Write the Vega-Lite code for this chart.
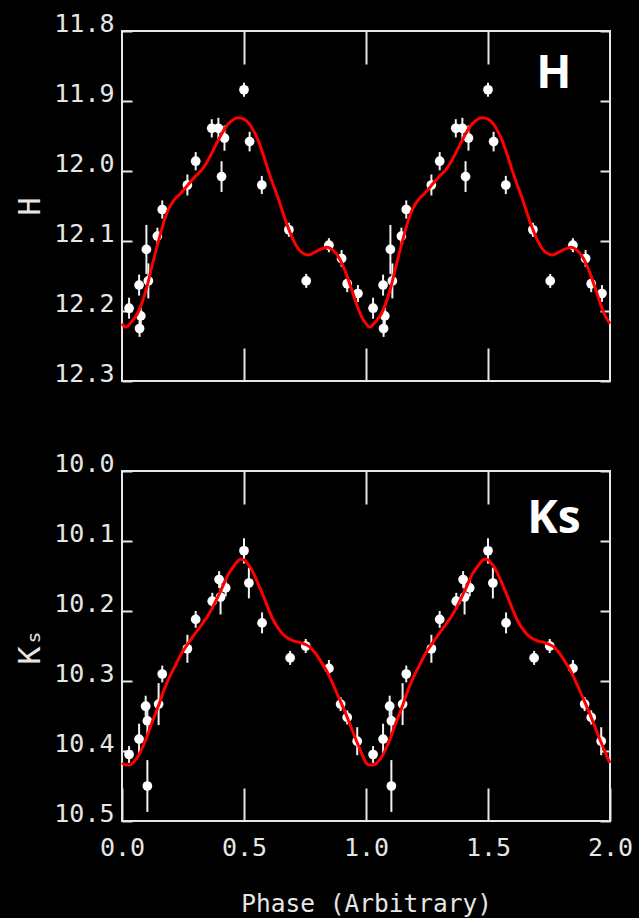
{
  "$schema": "https://vega.github.io/schema/vega-lite/v6.json",
  "background": "black",
  "padding": {"left": 14, "top": 10, "right": 5, "bottom": 2},
  "spacing": 63,
  "datasets": {
    "hp": [
      {"p": 0.029, "m": 12.196, "e": 0.015}, {"p": 0.072, "m": 12.225, "e": 0.012}, {"p": 0.077, "m": 12.207, "e": 0.012},
      {"p": 0.070, "m": 12.163, "e": 0.015}, {"p": 0.108, "m": 12.157, "e": 0.025}, {"p": 0.100, "m": 12.112, "e": 0.035},
      {"p": 0.145, "m": 12.093, "e": 0.012}, {"p": 0.165, "m": 12.055, "e": 0.013}, {"p": 0.268, "m": 12.020, "e": 0.015},
      {"p": 0.302, "m": 11.986, "e": 0.013}, {"p": 0.368, "m": 11.939, "e": 0.013}, {"p": 0.395, "m": 11.939, "e": 0.015},
      {"p": 0.420, "m": 11.953, "e": 0.018}, {"p": 0.408, "m": 12.008, "e": 0.022}, {"p": 0.500, "m": 11.884, "e": 0.010},
      {"p": 0.523, "m": 11.958, "e": 0.014}, {"p": 0.573, "m": 12.020, "e": 0.013}, {"p": 0.684, "m": 12.084, "e": 0.010},
      {"p": 0.755, "m": 12.157, "e": 0.010}, {"p": 0.848, "m": 12.106, "e": 0.010}, {"p": 0.900, "m": 12.125, "e": 0.012},
      {"p": 0.923, "m": 12.161, "e": 0.012}, {"p": 0.967, "m": 12.175, "e": 0.012},
      {"p": 1.029, "m": 12.196, "e": 0.015}, {"p": 1.072, "m": 12.225, "e": 0.012}, {"p": 1.077, "m": 12.207, "e": 0.012},
      {"p": 1.070, "m": 12.163, "e": 0.015}, {"p": 1.108, "m": 12.157, "e": 0.025}, {"p": 1.100, "m": 12.112, "e": 0.035},
      {"p": 1.145, "m": 12.093, "e": 0.012}, {"p": 1.165, "m": 12.055, "e": 0.013}, {"p": 1.268, "m": 12.020, "e": 0.015},
      {"p": 1.302, "m": 11.986, "e": 0.013}, {"p": 1.368, "m": 11.939, "e": 0.013}, {"p": 1.395, "m": 11.939, "e": 0.015},
      {"p": 1.420, "m": 11.953, "e": 0.018}, {"p": 1.408, "m": 12.008, "e": 0.022}, {"p": 1.500, "m": 11.884, "e": 0.010},
      {"p": 1.523, "m": 11.958, "e": 0.014}, {"p": 1.573, "m": 12.020, "e": 0.013}, {"p": 1.684, "m": 12.084, "e": 0.010},
      {"p": 1.755, "m": 12.157, "e": 0.010}, {"p": 1.848, "m": 12.106, "e": 0.010}, {"p": 1.900, "m": 12.125, "e": 0.012},
      {"p": 1.923, "m": 12.161, "e": 0.012}, {"p": 1.967, "m": 12.175, "e": 0.012}
    ],
    "hc": [
      {"p": 0.00, "m": 12.218}, {"p": 0.015, "m": 12.223}, {"p": 0.04, "m": 12.215}, {"p": 0.063, "m": 12.204},
      {"p": 0.085, "m": 12.185}, {"p": 0.104, "m": 12.163}, {"p": 0.12, "m": 12.140}, {"p": 0.138, "m": 12.115},
      {"p": 0.155, "m": 12.093}, {"p": 0.172, "m": 12.072}, {"p": 0.19, "m": 12.055}, {"p": 0.21, "m": 12.043},
      {"p": 0.24, "m": 12.032}, {"p": 0.275, "m": 12.018}, {"p": 0.30, "m": 12.008}, {"p": 0.33, "m": 11.997},
      {"p": 0.35, "m": 11.986}, {"p": 0.37, "m": 11.973}, {"p": 0.39, "m": 11.959}, {"p": 0.41, "m": 11.946},
      {"p": 0.43, "m": 11.935}, {"p": 0.45, "m": 11.928}, {"p": 0.475, "m": 11.924}, {"p": 0.50, "m": 11.926},
      {"p": 0.52, "m": 11.932}, {"p": 0.54, "m": 11.943}, {"p": 0.56, "m": 11.958}, {"p": 0.58, "m": 11.978},
      {"p": 0.60, "m": 12.000}, {"p": 0.62, "m": 12.020}, {"p": 0.64, "m": 12.039}, {"p": 0.66, "m": 12.060},
      {"p": 0.68, "m": 12.080}, {"p": 0.70, "m": 12.097}, {"p": 0.72, "m": 12.110}, {"p": 0.74, "m": 12.117},
      {"p": 0.76, "m": 12.120}, {"p": 0.78, "m": 12.118}, {"p": 0.80, "m": 12.114}, {"p": 0.82, "m": 12.111},
      {"p": 0.84, "m": 12.109}, {"p": 0.86, "m": 12.112}, {"p": 0.88, "m": 12.119}, {"p": 0.90, "m": 12.131},
      {"p": 0.92, "m": 12.148}, {"p": 0.94, "m": 12.168}, {"p": 0.96, "m": 12.189}, {"p": 0.98, "m": 12.207},
      {"p": 1.00, "m": 12.218}, {"p": 1.015, "m": 12.223}, {"p": 1.04, "m": 12.215}, {"p": 1.063, "m": 12.204},
      {"p": 1.085, "m": 12.185}, {"p": 1.104, "m": 12.163}, {"p": 1.12, "m": 12.140}, {"p": 1.138, "m": 12.115},
      {"p": 1.155, "m": 12.093}, {"p": 1.172, "m": 12.072}, {"p": 1.19, "m": 12.055}, {"p": 1.21, "m": 12.043},
      {"p": 1.24, "m": 12.032}, {"p": 1.275, "m": 12.018}, {"p": 1.30, "m": 12.008}, {"p": 1.33, "m": 11.997},
      {"p": 1.35, "m": 11.986}, {"p": 1.37, "m": 11.973}, {"p": 1.39, "m": 11.959}, {"p": 1.41, "m": 11.946},
      {"p": 1.43, "m": 11.935}, {"p": 1.45, "m": 11.928}, {"p": 1.475, "m": 11.924}, {"p": 1.50, "m": 11.926},
      {"p": 1.52, "m": 11.932}, {"p": 1.54, "m": 11.943}, {"p": 1.56, "m": 11.958}, {"p": 1.58, "m": 11.978},
      {"p": 1.60, "m": 12.000}, {"p": 1.62, "m": 12.020}, {"p": 1.64, "m": 12.039}, {"p": 1.66, "m": 12.060},
      {"p": 1.68, "m": 12.080}, {"p": 1.70, "m": 12.097}, {"p": 1.72, "m": 12.110}, {"p": 1.74, "m": 12.117},
      {"p": 1.76, "m": 12.120}, {"p": 1.78, "m": 12.118}, {"p": 1.80, "m": 12.114}, {"p": 1.82, "m": 12.111},
      {"p": 1.84, "m": 12.109}, {"p": 1.86, "m": 12.112}, {"p": 1.88, "m": 12.119}, {"p": 1.90, "m": 12.131},
      {"p": 1.92, "m": 12.148}, {"p": 1.94, "m": 12.168}, {"p": 1.96, "m": 12.189}, {"p": 1.98, "m": 12.207},
      {"p": 2.00, "m": 12.218}
    ],
    "kp": [
      {"p": 0.029, "m": 10.405, "e": 0.012}, {"p": 0.070, "m": 10.383, "e": 0.022}, {"p": 0.097, "m": 10.336, "e": 0.015},
      {"p": 0.104, "m": 10.357, "e": 0.020}, {"p": 0.104, "m": 10.450, "e": 0.037}, {"p": 0.150, "m": 10.333, "e": 0.030},
      {"p": 0.165, "m": 10.290, "e": 0.012}, {"p": 0.268, "m": 10.254, "e": 0.020}, {"p": 0.302, "m": 10.212, "e": 0.012},
      {"p": 0.370, "m": 10.186, "e": 0.012}, {"p": 0.398, "m": 10.155, "e": 0.012}, {"p": 0.404, "m": 10.180, "e": 0.025},
      {"p": 0.425, "m": 10.167, "e": 0.012}, {"p": 0.500, "m": 10.114, "e": 0.018}, {"p": 0.520, "m": 10.160, "e": 0.022},
      {"p": 0.574, "m": 10.217, "e": 0.015}, {"p": 0.689, "m": 10.267, "e": 0.010}, {"p": 0.753, "m": 10.250, "e": 0.010},
      {"p": 0.848, "m": 10.282, "e": 0.012}, {"p": 0.896, "m": 10.333, "e": 0.010}, {"p": 0.923, "m": 10.352, "e": 0.010},
      {"p": 0.964, "m": 10.386, "e": 0.020},
      {"p": 1.029, "m": 10.405, "e": 0.012}, {"p": 1.070, "m": 10.383, "e": 0.022}, {"p": 1.097, "m": 10.336, "e": 0.015},
      {"p": 1.104, "m": 10.357, "e": 0.020}, {"p": 1.104, "m": 10.450, "e": 0.037}, {"p": 1.150, "m": 10.333, "e": 0.030},
      {"p": 1.165, "m": 10.290, "e": 0.012}, {"p": 1.268, "m": 10.254, "e": 0.020}, {"p": 1.302, "m": 10.212, "e": 0.012},
      {"p": 1.370, "m": 10.186, "e": 0.012}, {"p": 1.398, "m": 10.155, "e": 0.012}, {"p": 1.404, "m": 10.180, "e": 0.025},
      {"p": 1.425, "m": 10.167, "e": 0.012}, {"p": 1.500, "m": 10.114, "e": 0.018}, {"p": 1.520, "m": 10.160, "e": 0.022},
      {"p": 1.574, "m": 10.217, "e": 0.015}, {"p": 1.689, "m": 10.267, "e": 0.010}, {"p": 1.753, "m": 10.250, "e": 0.010},
      {"p": 1.848, "m": 10.282, "e": 0.012}, {"p": 1.896, "m": 10.333, "e": 0.010}, {"p": 1.923, "m": 10.352, "e": 0.010},
      {"p": 1.964, "m": 10.386, "e": 0.020}
    ],
    "kc": [
      {"p": 0.00, "m": 10.417}, {"p": 0.015, "m": 10.420}, {"p": 0.03, "m": 10.420}, {"p": 0.05, "m": 10.415},
      {"p": 0.07, "m": 10.405}, {"p": 0.09, "m": 10.390}, {"p": 0.104, "m": 10.378}, {"p": 0.12, "m": 10.362},
      {"p": 0.138, "m": 10.346}, {"p": 0.155, "m": 10.330}, {"p": 0.172, "m": 10.313}, {"p": 0.19, "m": 10.298},
      {"p": 0.22, "m": 10.277}, {"p": 0.245, "m": 10.260}, {"p": 0.268, "m": 10.248}, {"p": 0.30, "m": 10.232},
      {"p": 0.33, "m": 10.218}, {"p": 0.36, "m": 10.202}, {"p": 0.384, "m": 10.186}, {"p": 0.41, "m": 10.167},
      {"p": 0.435, "m": 10.148}, {"p": 0.46, "m": 10.135}, {"p": 0.486, "m": 10.126}, {"p": 0.50, "m": 10.127},
      {"p": 0.514, "m": 10.132}, {"p": 0.53, "m": 10.140}, {"p": 0.548, "m": 10.153}, {"p": 0.565, "m": 10.167},
      {"p": 0.582, "m": 10.181}, {"p": 0.60, "m": 10.197}, {"p": 0.616, "m": 10.210}, {"p": 0.635, "m": 10.222},
      {"p": 0.657, "m": 10.232}, {"p": 0.68, "m": 10.239}, {"p": 0.705, "m": 10.243}, {"p": 0.73, "m": 10.245},
      {"p": 0.753, "m": 10.248}, {"p": 0.775, "m": 10.253}, {"p": 0.794, "m": 10.261}, {"p": 0.815, "m": 10.272},
      {"p": 0.841, "m": 10.287}, {"p": 0.865, "m": 10.305}, {"p": 0.889, "m": 10.324}, {"p": 0.91, "m": 10.341},
      {"p": 0.93, "m": 10.358}, {"p": 0.95, "m": 10.376}, {"p": 0.971, "m": 10.394}, {"p": 0.99, "m": 10.410},
      {"p": 1.00, "m": 10.417}, {"p": 1.015, "m": 10.420}, {"p": 1.03, "m": 10.420}, {"p": 1.05, "m": 10.415},
      {"p": 1.07, "m": 10.405}, {"p": 1.09, "m": 10.390}, {"p": 1.104, "m": 10.378}, {"p": 1.12, "m": 10.362},
      {"p": 1.138, "m": 10.346}, {"p": 1.155, "m": 10.330}, {"p": 1.172, "m": 10.313}, {"p": 1.19, "m": 10.298},
      {"p": 1.22, "m": 10.277}, {"p": 1.245, "m": 10.260}, {"p": 1.268, "m": 10.248}, {"p": 1.30, "m": 10.232},
      {"p": 1.33, "m": 10.218}, {"p": 1.36, "m": 10.202}, {"p": 1.384, "m": 10.186}, {"p": 1.41, "m": 10.167},
      {"p": 1.435, "m": 10.148}, {"p": 1.46, "m": 10.135}, {"p": 1.486, "m": 10.126}, {"p": 1.50, "m": 10.127},
      {"p": 1.514, "m": 10.132}, {"p": 1.53, "m": 10.140}, {"p": 1.548, "m": 10.153}, {"p": 1.565, "m": 10.167},
      {"p": 1.582, "m": 10.181}, {"p": 1.60, "m": 10.197}, {"p": 1.616, "m": 10.210}, {"p": 1.635, "m": 10.222},
      {"p": 1.657, "m": 10.232}, {"p": 1.68, "m": 10.239}, {"p": 1.705, "m": 10.243}, {"p": 1.73, "m": 10.245},
      {"p": 1.753, "m": 10.248}, {"p": 1.775, "m": 10.253}, {"p": 1.794, "m": 10.261}, {"p": 1.815, "m": 10.272},
      {"p": 1.841, "m": 10.287}, {"p": 1.865, "m": 10.305}, {"p": 1.889, "m": 10.324}, {"p": 1.91, "m": 10.341},
      {"p": 1.93, "m": 10.358}, {"p": 1.95, "m": 10.376}, {"p": 1.971, "m": 10.394}, {"p": 1.99, "m": 10.410},
      {"p": 2.00, "m": 10.417}
    ]
  },
  "vconcat": [
    {
      "width": 488,
      "height": 350,
      "resolve": {"axis": {"x": "independent", "y": "independent"}},
      "layer": [
        {
          "data": {"name": "hp"},
          "mark": {"type": "errorbar", "color": "#f2f2f2", "thickness": 2},
          "encoding": {
            "x": {"field": "p", "type": "quantitative", "scale": {"domain": [0, 2], "nice": false, "zero": false}, "axis": null},
            "y": {"field": "m", "type": "quantitative", "scale": {"domain": [11.8, 12.3], "reverse": true, "nice": false, "zero": false}, "axis": null},
            "yError": {"field": "e"}
          }
        },
        {
          "data": {"name": "hp"},
          "mark": {"type": "point", "filled": true, "shape": "circle", "size": 95, "color": "#ffffff", "opacity": 1},
          "encoding": {
            "x": {"field": "p", "type": "quantitative", "scale": {"domain": [0, 2], "nice": false, "zero": false},
                  "axis": {"orient": "bottom", "values": [0.5, 1, 1.5], "labels": false, "title": null, "tickSize": -33}},
            "y": {"field": "m", "type": "quantitative", "scale": {"domain": [11.8, 12.3], "reverse": true, "nice": false, "zero": false},
                  "axis": {"orient": "left", "values": [11.8, 11.9, 12.0, 12.1, 12.2, 12.3], "format": ".1f", "tickSize": -10, "labelPadding": 18, "labelOffset": -8, "title": "H", "titleFontSize": 30, "titlePadding": 8}}
          }
        },
        {
          "data": {"name": "hc"},
          "mark": {"type": "line", "color": "#ff0000", "strokeWidth": 3, "interpolate": "monotone"},
          "encoding": {
            "x": {"field": "p", "type": "quantitative", "scale": {"domain": [0, 2], "nice": false, "zero": false},
                  "axis": {"orient": "top", "values": [0.5, 1, 1.5], "labels": false, "title": null, "tickSize": -33}},
            "y": {"field": "m", "type": "quantitative", "scale": {"domain": [11.8, 12.3], "reverse": true, "nice": false, "zero": false},
                  "axis": {"orient": "right", "values": [11.8, 11.9, 12.0, 12.1, 12.2, 12.3], "labels": false, "title": null, "tickSize": -10}}
          }
        },
        {
          "data": {"values": [{}]},
          "mark": {"type": "text", "text": "H", "font": "Open Sans", "fontWeight": "bold", "fontSize": 46, "color": "#ffffff", "align": "center", "baseline": "middle"},
          "encoding": {
            "x": {"datum": 1.77, "type": "quantitative", "axis": null},
            "y": {"datum": 11.862, "type": "quantitative", "axis": null}
          }
        }
      ]
    },
    {
      "width": 488,
      "height": 350,
      "resolve": {"axis": {"x": "independent", "y": "independent"}},
      "layer": [
        {
          "data": {"name": "kp"},
          "mark": {"type": "errorbar", "color": "#f2f2f2", "thickness": 2},
          "encoding": {
            "x": {"field": "p", "type": "quantitative", "scale": {"domain": [0, 2], "nice": false, "zero": false}, "axis": null},
            "y": {"field": "m", "type": "quantitative", "scale": {"domain": [10.0, 10.5], "reverse": true, "nice": false, "zero": false}, "axis": null},
            "yError": {"field": "e"}
          }
        },
        {
          "data": {"name": "kp"},
          "mark": {"type": "point", "filled": true, "shape": "circle", "size": 95, "color": "#ffffff", "opacity": 1},
          "encoding": {
            "x": {"field": "p", "type": "quantitative", "scale": {"domain": [0, 2], "nice": false, "zero": false},
                  "axis": {"orient": "bottom", "values": [0, 0.5, 1, 1.5, 2], "format": ".1f", "tickSize": -33, "labelPadding": 47, "title": "Phase (Arbitrary)", "titleFontSize": 24.5, "titlePadding": 32}},
            "y": {"field": "m", "type": "quantitative", "scale": {"domain": [10.0, 10.5], "reverse": true, "nice": false, "zero": false},
                  "axis": {"orient": "left", "values": [10.0, 10.1, 10.2, 10.3, 10.4, 10.5], "format": ".1f", "tickSize": -10, "labelPadding": 18, "labelOffset": -8, "title": "Kₛ", "titleFontSize": 30, "titlePadding": 8}}
          }
        },
        {
          "data": {"name": "kc"},
          "mark": {"type": "line", "color": "#ff0000", "strokeWidth": 3, "interpolate": "monotone"},
          "encoding": {
            "x": {"field": "p", "type": "quantitative", "scale": {"domain": [0, 2], "nice": false, "zero": false},
                  "axis": {"orient": "top", "values": [0.5, 1, 1.5], "labels": false, "title": null, "tickSize": -33}},
            "y": {"field": "m", "type": "quantitative", "scale": {"domain": [10.0, 10.5], "reverse": true, "nice": false, "zero": false},
                  "axis": {"orient": "right", "values": [10.0, 10.1, 10.2, 10.3, 10.4, 10.5], "labels": false, "title": null, "tickSize": -10}}
          }
        },
        {
          "data": {"values": [{}]},
          "mark": {"type": "text", "text": "Ks", "font": "Open Sans", "fontWeight": "bold", "fontSize": 46, "color": "#ffffff", "align": "center", "baseline": "middle"},
          "encoding": {
            "x": {"datum": 1.77, "type": "quantitative", "axis": null},
            "y": {"datum": 10.069, "type": "quantitative", "axis": null}
          }
        }
      ]
    }
  ],
  "config": {
    "view": {"stroke": "#e6e6e6", "strokeWidth": 2},
    "axis": {
      "domain": false, "grid": false,
      "tickColor": "#e6e6e6", "tickWidth": 2,
      "labelColor": "#e6e6e6", "titleColor": "#e6e6e6",
      "labelFont": "DejaVu Sans Mono", "labelFontSize": 25,
      "titleFont": "DejaVu Sans Mono", "titleFontWeight": "normal",
      "labelFlush": false, "labelOverlap": false
    }
  }
}
